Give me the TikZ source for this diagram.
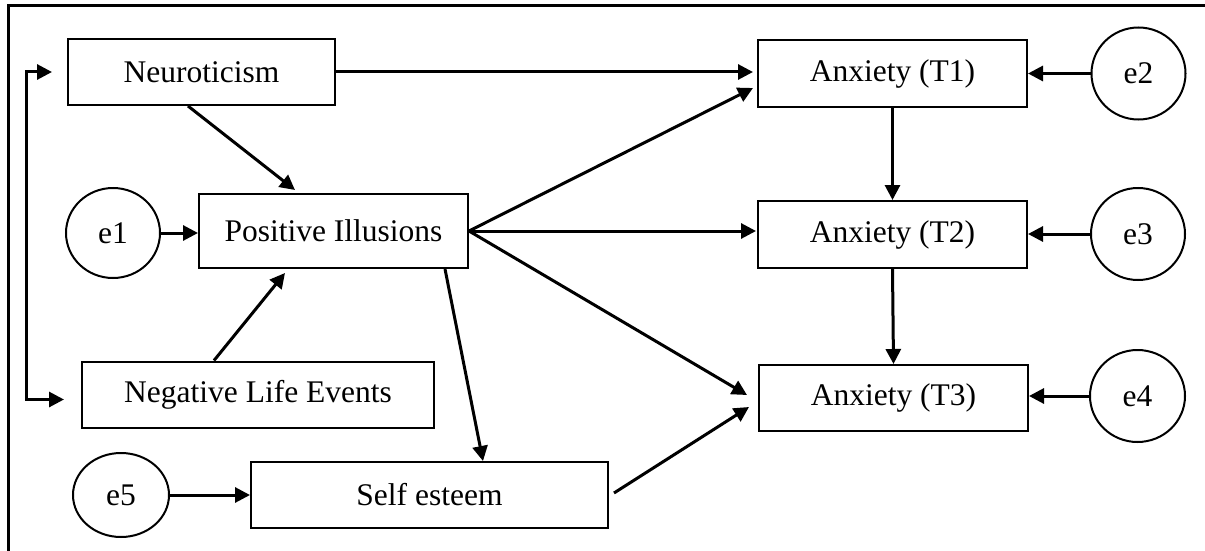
\documentclass[tikz,border=0pt]{standalone}
\usepackage{fontspec}
\setmainfont{Liberation Serif}
\usetikzlibrary{arrows.meta,shapes.geometric}
\begin{document}
\begin{tikzpicture}[x=1pt,y=-1pt,
  every node/.style={font=\fontsize{31.5}{36}\selectfont},
  boxnode/.style={draw,line width=2pt,rectangle,inner sep=0pt},
  errnode/.style={draw,line width=2pt,ellipse,inner sep=0pt},
  arr/.style={line width=3pt,-{Triangle[length=15pt,width=15pt]}},
  dblarr/.style={line width=3pt,{Triangle[length=15pt,width=15pt]}-{Triangle[length=15pt,width=15pt]}}
]
\useasboundingbox (0,0) rectangle (1205,551);
\draw[line width=3pt] (8.5,560) -- (8.5,5.5) -- (1215,5.5);

\node[boxnode,minimum width=267pt,minimum height=66pt] (neu) at (201.5,72) {Neuroticism};
\node[boxnode,minimum width=269pt,minimum height=74pt] (pi) at (333.5,231) {Positive Illusions};
\node[boxnode,minimum width=352pt,minimum height=66pt] (nle) at (258,394.5) {Negative Life Events};
\node[boxnode,minimum width=357pt,minimum height=66pt] (se) at (429.5,495) {Self esteem};
\node[boxnode,minimum width=269pt,minimum height=67pt] (t1) at (892.5,73.5) {Anxiety (T1)};
\node[boxnode,minimum width=269pt,minimum height=67pt] (t2) at (892.5,234.5) {Anxiety (T2)};
\node[boxnode,minimum width=269pt,minimum height=66pt] (t3) at (893.5,398) {Anxiety (T3)};

\node[errnode,minimum width=94pt,minimum height=90pt] (e1) at (113,233) {e1};
\node[errnode,minimum width=94pt,minimum height=92pt] (e2) at (1138.5,73.5) {e2};
\node[errnode,minimum width=94pt,minimum height=92pt] (e3) at (1138,234) {e3};
\node[errnode,minimum width=95pt,minimum height=92pt] (e4) at (1137.5,396) {e4};
\node[errnode,minimum width=96pt,minimum height=84pt] (e5) at (121,495) {e5};

\coordinate (lx) at (26,200);

% left double-headed connector
\draw[dblarr] ([xshift=-15pt]neu.west) -| (lx) |- ([xshift=-17pt,yshift=-5pt]nle.west);

% Neuroticism paths
\draw[arr,shorten >=4pt] (neu.east) -- (neu.east -| t1.west);
\draw[arr] ([xshift=-13.5pt]neu.south) -- ([xshift=-38.5pt,yshift=3pt]pi.north);

% into Positive Illusions
\draw[arr] (e1.east) -- (e1.east -| pi.west);
\draw[arr] ([xshift=-44pt]nle.north) -- ([xshift=-48.5pt,yshift=-4pt]pi.south);

% from Positive Illusions
\draw[arr] (pi.east) -- ([xshift=-4pt,yshift=-14.5pt]t1.west);
\draw[arr] (pi.east) -- ([xshift=-1pt]pi.east -| t2.west);
\draw[arr] (pi.east) -- ([xshift=-11pt,yshift=3pt]t3.west);
\draw[arr] ([xshift=111.5pt]pi.south) -- ([xshift=53.5pt]se.north);

% Self esteem
\draw[arr] (e5.east) -- (e5.east -| se.west);
\draw[arr] ([xshift=5pt,yshift=2pt]se.east) -- ([xshift=-9pt,yshift=-9pt]t3.west);

% anxiety chain
\draw[arr] (t1.south) -- (t2.north);
\draw[arr] (t2.south) -- (t3.north);

% errors on anxiety
\draw[arr] (e2.west) -- (e2.west -| t1.east);
\draw[arr] (e3.west) -- (e3.west -| t2.east);
\draw[arr] (e4.west) -- (e4.west -| t3.east);
\end{tikzpicture}
\end{document}
